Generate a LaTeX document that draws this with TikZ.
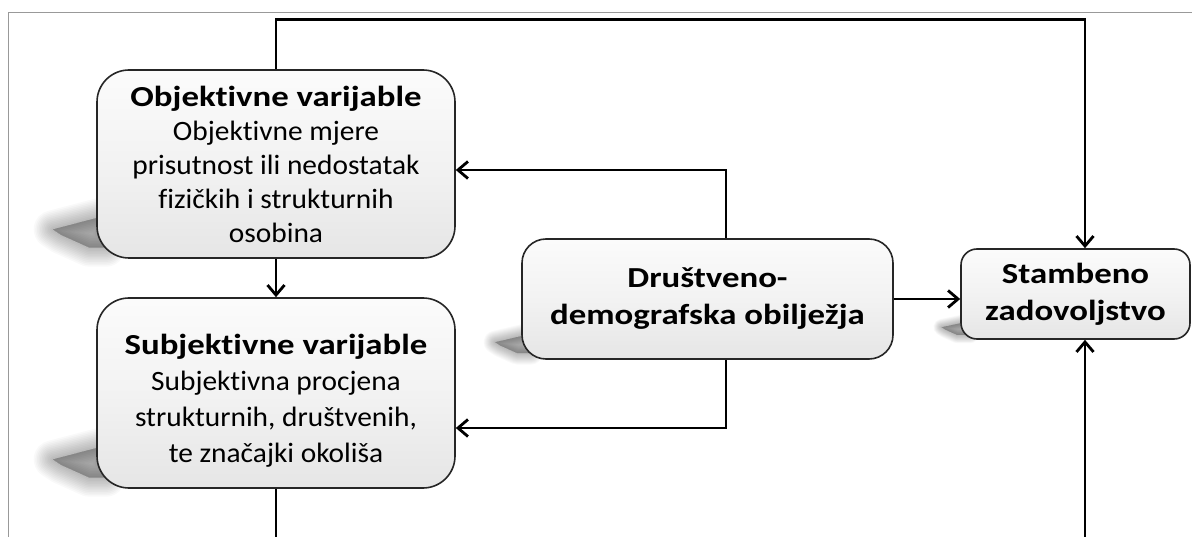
\documentclass[tikz,border=0pt]{standalone}
\usepackage{fontspec}
\setmainfont{Carlito}[Ligatures=NoCommon]
\newfontfamily\widefont{Carlito}[FakeStretch=1.05,Ligatures=NoCommon]
\newfontfamily\widerfont{Carlito}[FakeStretch=1.2,Ligatures=NoCommon]
\usetikzlibrary{arrows.meta,backgrounds}

\begin{document}
\begin{tikzpicture}[x=1pt,y=-1pt,
  arr/.style={-{Straight Barb[length=10pt,width=17pt,line width=2.8pt]},line width=2.8pt},
  box/.style={draw=black!85,line width=1.6pt,top color=gray!3,bottom color=gray!20,middle color=gray!10,
    align=center,inner sep=0pt,text=black},
  small/.style={font=\widefont\fontsize{28}{#1}\selectfont},
  big/.style={font=\widerfont\fontsize{29}{37}\selectfont\bfseries}]
\useasboundingbox (0,0) rectangle (1192,537);
\clip (0,0) rectangle (1192,537);
\draw[gray!80,line width=0.8pt] (8,560) |- (1210,12);
% boxes
\node[box,small=34,rounded corners=32pt,minimum width=358pt,minimum height=188pt] (obj) at (276,164)
  {{\widerfont\fontsize{29}{34}\selectfont\bfseries Objektivne varijable}\\Objektivne mjere\\prisutnost ili nedostatak\\fizičkih i strukturnih\\osobina};
\node[box,small=36,rounded corners=32pt,minimum width=358pt,minimum height=190pt] (subj) at (276,393)
  {\rule{0pt}{36pt}{\widerfont\fontsize{29}{36}\selectfont\bfseries Subjektivne varijable}\\Subjektivna procjena\\strukturnih, društvenih,\\te značajki okoliša};
\node[box,big,rounded corners=24pt,minimum width=371pt,minimum height=120pt] (dru) at (707.5,299)
  {Društveno-\\demografska obilježja};
\node[box,big,rounded corners=16pt,minimum width=229pt,minimum height=90pt] (stam) at (1075.5,294)
  {Stambeno\\zadovoljstvo};
% connectors
\draw[arr] (obj.north) -- ++(0,-50) -| ([xshift=9.5pt]stam.north);
\draw[arr] (obj.south) -- (subj.north);
\draw[arr] ([xshift=18.5pt]dru.north) |- ([yshift=-6pt]obj.east);
\draw[arr] ([xshift=18.5pt]dru.south) |- ([yshift=-35pt]subj.east);
\draw[arr] (dru.east) -- (dru.east -| stam.west);
\draw[arr] (subj.south) -- ++(0,80) -| ([xshift=9.5pt]stam.south);
% soft shadows
\begin{scope}[on background layer]
\fill[white] (0,0) rectangle (1192,537);
\foreach \n/\s in {obj/70,subj/70,dru/42,stam/30}
  \foreach \k in {1,...,12}
    \filldraw[black,opacity=0.025,line width=(13-\k)*\s/22,line join=round]
      ([shift={(10,-0.62*\s)}]\n.south west) -- ([shift={(-0.62*\s,-0.42*\s)}]\n.south west)
      -- ([shift={(-0.5*\s,-0.34*\s)}]\n.south west) -- ([shift={(-0.1*\s,-0.16*\s)}]\n.south west)
      -- ([shift={(10,-0.16*\s)}]\n.south west) -- cycle;
\end{scope}
\end{tikzpicture}
\end{document}
